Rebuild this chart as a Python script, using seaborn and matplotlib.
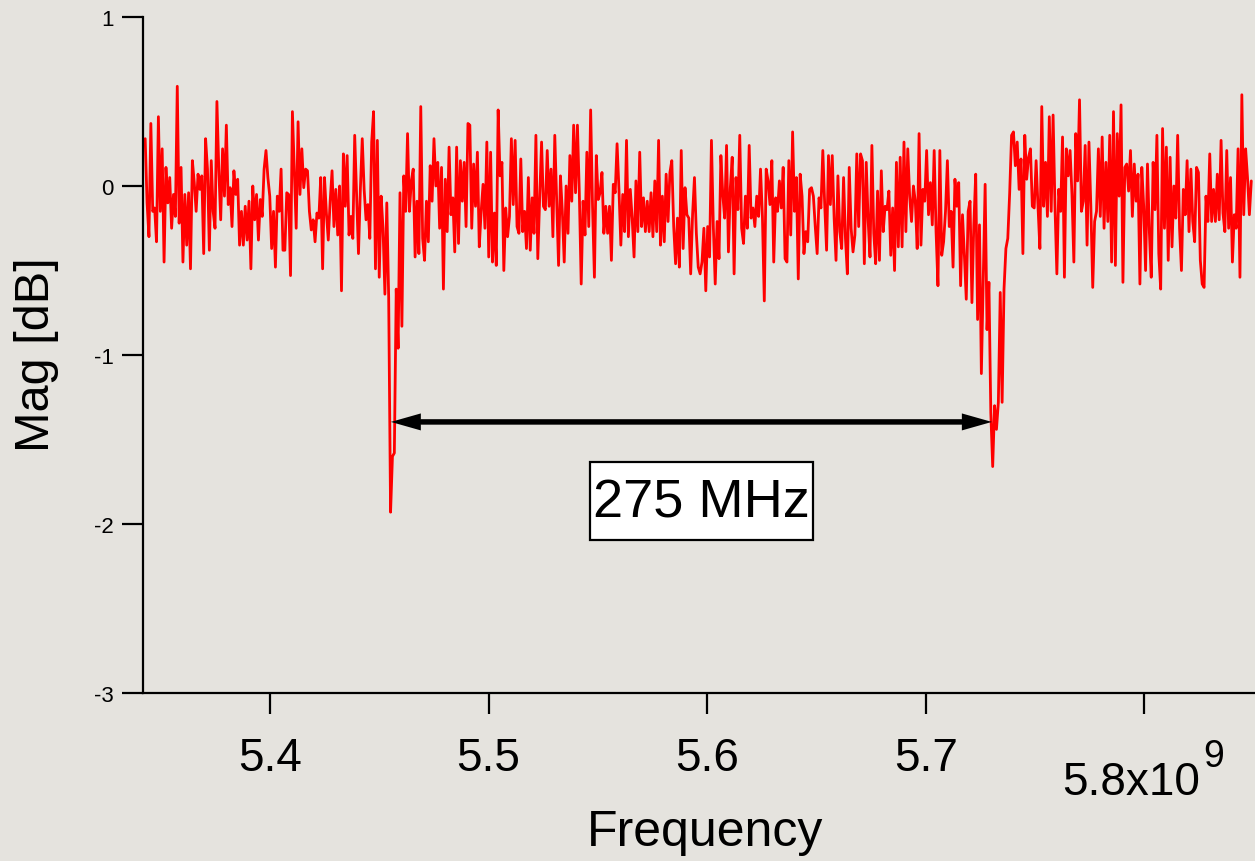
import numpy as np
import pandas as pd
import matplotlib
matplotlib.use("Agg")
import matplotlib.pyplot as plt
from matplotlib.patches import Rectangle
from matplotlib.transforms import IdentityTransform
import seaborn as sns

# ---------------- data ----------------
freq_start = 5.3429e9
freq_stop = 5.8490e9

mag_seg1 = [0.28, -0.10, -0.30, 0.37, -0.15, -0.13, -0.33, 0.41, -0.15, 0.22,
            -0.45, 0.11, -0.10, 0.05, -0.25, -0.05, -0.18, 0.59, -0.22, 0.11,
            -0.45, -0.05, -0.35, -0.04, -0.49, 0.15, 0.02, -0.15, 0.07, -0.02,
            0.06, -0.40, 0.28, 0.10, -0.38, 0.15, -0.15, -0.25, 0.50, 0.10,
            -0.20, 0.22, -0.06, 0.36, -0.11, -0.01, -0.24, 0.09, -0.05, 0.04,
            -0.35, -0.15, -0.35, -0.12, -0.32, -0.09, -0.49, 0.00, -0.20, -0.05,
            -0.32, -0.08, -0.18, 0.10, 0.21, 0.05, -0.06, -0.37, -0.15, -0.48,
            -0.06, -0.15, 0.10, -0.38]
mag_seg2 = [-0.38, -0.04, -0.05, -0.53, 0.44, 0.10, -0.25, 0.38, -0.05, 0.22,
            -0.01, 0.10, 0.09, -0.15, -0.26, -0.20, -0.33, -0.16, -0.19, 0.05,
            -0.49, 0.05, -0.16, -0.32, -0.09, 0.09, -0.24, -0.02, -0.29, 0.00,
            -0.62, 0.19, -0.12, 0.18, -0.29, -0.18, -0.31, 0.30, -0.05, -0.40,
            -0.02, 0.28, -0.02, -0.20, -0.11, -0.31, 0.26]
mag_seg3 = [0.44, -0.49, 0.27, -0.54, -0.06, -0.25, -0.64, -0.10, -0.66, -1.93,
            -1.60, -1.58, -0.61, -0.96, -0.04, -0.83, 0.06, -0.15, 0.31, -0.15,
            0.03, 0.10, -0.42, -0.09, -0.40, 0.47, -0.31, -0.44, -0.09, -0.33,
            0.12, -0.09, 0.28, 0.00, 0.14, -0.25, 0.11, -0.61, 0.04, -0.27,
            0.23, -0.17, -0.07, -0.39, 0.23, -0.34, 0.15, -0.09, 0.14, -0.24,
            0.37]
mag_seg4 = [0.36, -0.25, 0.13, -0.12, 0.20, -0.36, -0.15, 0.01, -0.25, 0.26,
            -0.42, 0.20, -0.45, -0.16, -0.47, 0.45, 0.06, 0.14, -0.50, -0.13,
            -0.30, -0.18, 0.28, -0.11, 0.27, -0.24, -0.28, 0.16, -0.27, -0.15,
            -0.37, 0.05, -0.38, -0.07, -0.28, 0.30, -0.43, -0.07, 0.26, -0.12,
            -0.14, 0.21, -0.12, 0.10, -0.30, 0.30, -0.09, -0.47, 0.06, -0.15,
            -0.45, 0.00, -0.28, 0.18, -0.09, 0.36, -0.04, 0.36, -0.04, -0.58,
            -0.09, -0.29, 0.20, -0.24, 0.45, -0.12, -0.54, 0.18]
mag_seg5 = [-0.08, -0.04, 0.08, -0.28, -0.12, -0.28, -0.12, -0.44, 0.01, -0.04,
            0.25, -0.02, -0.35, -0.05, -0.27, 0.27, -0.30, -0.02, -0.19, -0.42,
            0.03, -0.27, 0.20, -0.24, -0.07, -0.27, -0.09, -0.27, -0.04, -0.30,
            0.03, -0.27, 0.27, -0.35, -0.06, -0.33, 0.07, -0.21, 0.08, 0.15,
            -0.24, -0.46, -0.19, -0.48, 0.21, -0.37, -0.01, -0.17, -0.19, -0.52,
            -0.17, 0.05, -0.28, -0.48, -0.52, -0.45, -0.25, -0.62, -0.24, -0.42,
            0.27, -0.24, -0.58, -0.21, -0.43, 0.18, -0.05, -0.19, 0.24]
mag_seg6 = [-0.39, -0.01, 0.17, -0.52, 0.05, -0.14, 0.30, -0.25, -0.34, -0.06,
            -0.25, 0.24, -0.19, -0.13, -0.24, -0.06, -0.18, 0.10, -0.18, -0.68,
            0.10, 0.03, -0.11, 0.15, -0.45, -0.07, -0.15, 0.03, -0.13, 0.11,
            -0.43, -0.45, 0.15, -0.29, 0.32, -0.15, 0.05, -0.55, 0.07, -0.06,
            -0.40, -0.27, -0.33, -0.02, -0.01, -0.06, -0.24, -0.40, -0.07, -0.13,
            0.21, -0.11, -0.38, 0.18, -0.11, 0.18, -0.19, -0.44, 0.06, -0.27,
            -0.37, 0.05, -0.31, -0.52, 0.11, -0.25, -0.39, -0.29, 0.19, -0.24,
            0.19]
mag_seg7 = [0.15, -0.46, 0.14, -0.20, -0.42, 0.24, -0.28, -0.46, -0.03, -0.44,
            0.09, -0.27, -0.12, -0.14, -0.03, -0.41, -0.13, -0.50, 0.14, -0.36,
            0.17, -0.36, 0.26, -0.27, 0.22, -0.06, -0.21, 0.00, -0.09, -0.37,
            0.31, -0.35, -0.02, -0.09, 0.21, -0.17, 0.02, -0.23, 0.21, -0.27,
            -0.59, 0.21, -0.41, -0.33, -0.15, 0.15, -0.24, -0.15, -0.48, 0.04,
            -0.12, 0.02, -0.59, -0.17, -0.41, -0.67, -0.15, -0.09, -0.69, -0.23,
            0.07, -0.79, -0.23, -1.11, -0.55, 0.01, -0.85, -0.57, -1.34, -1.66,
            -1.30, -1.44, -1.28, -0.63, -1.28, -0.61, -0.37, -0.31, -0.04, 0.30]
mag_seg8 = [0.32, 0.12, 0.26, -0.02, 0.16, -0.40, 0.30, 0.04, 0.17, 0.22,
            -0.12, -0.13, 0.15, -0.12, -0.37, 0.47, -0.12, 0.14, -0.18, 0.41,
            -0.15, 0.42, -0.12, -0.52, -0.02, -0.15, 0.29, -0.54, 0.22, 0.06,
            0.21, -0.05, -0.45, 0.31, 0.03, 0.51, -0.15, -0.09, 0.24, -0.35,
            0.26, -0.12, -0.60, -0.21, -0.15, 0.22, -0.18, 0.29, -0.25, 0.14,
            -0.21, 0.30, -0.45, 0.44, -0.47, 0.31, -0.06, 0.48, -0.57, 0.11,
            0.13, -0.03, 0.21]
mag_seg9 = [-0.18, 0.13, -0.09, 0.07, -0.58, 0.11, -0.12, -0.50, 0.13, -0.27,
            -0.54, 0.14, -0.14, 0.30, -0.40, -0.61, 0.34, -0.25, 0.23, -0.44,
            0.17, -0.36, 0.00, -0.19, 0.30, -0.25, -0.50, -0.02, -0.17, 0.15,
            -0.27, 0.10, -0.21, -0.33, 0.11, 0.08, -0.44, -0.58, -0.60, -0.06,
            -0.21, 0.19, -0.21, -0.02, -0.21, 0.07, -0.20, 0.27, -0.16, -0.27,
            0.21, -0.25, 0.05, -0.45, -0.17, -0.25, 0.22, -0.54, 0.54, -0.17,
            0.22, 0.05, -0.17, 0.03]

x_ticks = [5.4e9, 5.5e9, 5.6e9, 5.7e9, 5.8e9]
x_tick_labels = ["5.4", "5.5", "5.6", "5.7", ""]
y_ticks = [-3, -2, -1, 0, 1]
y_tick_labels = ["-3", "-2", "-1", "0", "1"]

arrow_f1 = 5.4553e9
arrow_f2 = 5.7303e9
arrow_mag = -1.396
label_text = "275 MHz"
label_f = 5.5973e9
label_mag = -1.872

# ---------------- build frame ----------------
mag = (mag_seg1 + mag_seg2 + mag_seg3 + mag_seg4 + mag_seg5 +
       mag_seg6 + mag_seg7 + mag_seg8 + mag_seg9)
freq = np.linspace(freq_start, freq_stop, len(mag))
df = pd.DataFrame({"Frequency": freq, "Mag": mag})

# ---------------- style ----------------
BG = "#e5e3de"
sns.set_style("ticks")
plt.rcParams["font.family"] = ["Liberation Sans", "DejaVu Sans"]
plt.rcParams["text.color"] = "black"
plt.rcParams["axes.labelcolor"] = "black"
plt.rcParams["xtick.color"] = "black"
plt.rcParams["ytick.color"] = "black"

W, H = 1255, 862
fig = plt.figure(figsize=(W / 100, H / 100), dpi=100, facecolor=BG)
ax = fig.add_axes([143 / W, (H - 694) / H, 1112 / W, 676 / H])
ax.set_facecolor(BG)

sns.lineplot(data=df, x="Frequency", y="Mag", ax=ax, color="#ff0000",
             linewidth=2.0, estimator=None, sort=False)

ax.set_xlim(5.3419e9, 5.8507e9)
ax.set_ylim(-3, 1)

for s in ["top", "right"]:
    ax.spines[s].set_visible(False)
for s in ["left", "bottom"]:
    ax.spines[s].set_color("black")
    ax.spines[s].set_linewidth(1.6)

ax.set_xticks(x_ticks)
ax.set_xticklabels(x_tick_labels)
ax.set_yticks(y_ticks)
ax.set_yticklabels(y_tick_labels)
ax.tick_params(axis="both", direction="out", length=15, width=1.6,
               color="black", labelcolor="black")
ax.tick_params(axis="x", labelsize=33, pad=16)
ax.tick_params(axis="y", labelsize=16, pad=6)

ax.set_xlabel("Frequency", fontsize=36, color="black")
ax.xaxis.set_label_coords((705 - 143) / 1112, (694 - 833) / 676)
ax.xaxis.label.set_verticalalignment("center")
ax.set_ylabel("Mag [dB]", fontsize=35, color="black")
ax.yaxis.set_label_coords((37 - 143) / 1112, (694 - 355) / 676)
ax.yaxis.label.set_verticalalignment("center")

# last tick label with exponent
fig.text(1131 / W, 1 - 783 / H, "5.8x10", fontsize=33, ha="center",
         va="center", color="black")
fig.text(1214 / W, 1 - 757 / H, "9", fontsize=27, ha="center", va="center",
         color="black")

# double-headed arrow between the two dips (two overlapping filled arrows)
fig.canvas.draw()
px_per_x = ax.transData.transform((1.0e9, 0))[0] - ax.transData.transform((0.0, 0))[0]
px_per_y = ax.transData.transform((0, 1))[1] - ax.transData.transform((0, 0))[1]
shaft_w = 5.0 / px_per_y
head_w = 17.0 / px_per_y
head_l = 30.0 / px_per_x * 1.0e9
for start_f, end_f in ((arrow_f2 - head_l, arrow_f1), (arrow_f1 + head_l, arrow_f2)):
    ax.arrow(start_f, arrow_mag, end_f - start_f, 0.0, width=shaft_w,
             head_width=head_w, head_length=head_l,
             length_includes_head=True, color="black", linewidth=0,
             zorder=4)

# boxed label
txt = ax.text(label_f, label_mag, label_text, fontsize=39, ha="center",
              va="center", color="black", zorder=6)
fig.canvas.draw()
bb = txt.get_window_extent(renderer=fig.canvas.get_renderer())
box = Rectangle((bb.x0 - 3, bb.y0 - 13), bb.width + 6, bb.height + 28,
                facecolor="white", edgecolor="black", linewidth=1.6,
                zorder=5, transform=IdentityTransform())
ax.add_patch(box)
box.set_transform(IdentityTransform())
box.set_clip_on(False)

fig.savefig("out.png", dpi=100, facecolor=BG)
